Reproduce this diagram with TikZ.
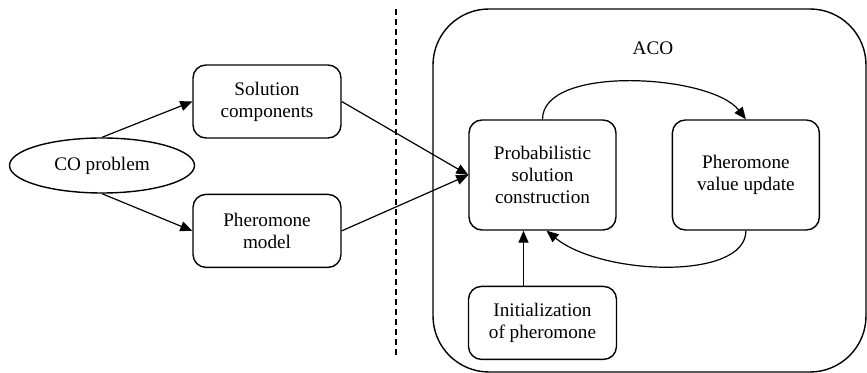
\documentclass[tikz,border=0pt]{standalone}
\usepackage{fontspec}
\setmainfont{Liberation Serif}
\usepackage{tikz}
\usetikzlibrary{positioning, arrows.meta, shapes}
\tikzset{problem/.style={
        draw,
        ellipse,
        line width=0.7pt,
        inner sep=0pt,
        minimum width=92.5pt,
        minimum height=27.5pt
}}
\tikzset{component/.style={
        draw,
        rectangle,
        rounded corners=6.5pt,
        line width=0.7pt,
        inner sep=2pt,
        align=center,
        minimum width=74pt,
        minimum height=36.5pt
}}
\tikzset{stage/.style={
        component,
        minimum width=73.5pt,
        minimum height=55pt
}}
\tikzset{acoframe/.style={
        draw,
        rectangle,
        rounded corners=28pt,
        line width=0.7pt,
        minimum width=216.5pt,
        minimum height=181.5pt
}}
\tikzset{flowedge/.style={draw,line width=0.6pt,-{Triangle[length=6pt,width=5pt]}}}
\tikzset{divider/.style={draw,line width=0.6pt,dash pattern=on 3pt off 2pt}}

\begin{document}
\begin{tikzpicture}[x=0.5pt,y=-0.5pt,node distance=27.5pt,every node/.style={font=\fontsize{9.6}{11}\selectfont}]
\useasboundingbox (0,0) rectangle (867,373);

\node[acoframe] (aco) at (649.5,190.5) {};
\node (acolabel) at (653,48) {ACO};

\node[problem] (co) at (102,165.5) {CO problem};
\node[component] (sol) at (267,101.5) {Solution\\components};
\node[component, below=of sol] (phm) {Pheromone\\model};

\node[stage] (prob) at (542.5,175) {Probabilistic\\solution\\construction};
\node[stage, right=of prob] (upd) {Pheromone\\value update};
\node[component, below=of prob] (init) {Initialization\\of pheromone};

\coordinate (divtop) at (396,9);
\coordinate (divbot) at (396,358);
\draw[divider] (divtop) -- (divbot);

\draw[flowedge] (co.north) -- (sol.west);
\draw[flowedge] (co.south) -- (phm.west);
\draw[flowedge] (sol.east) -- (prob.west);
\draw[flowedge] (phm.east) -- (prob.west);
\draw[flowedge] (prob.north) .. controls +(0,-55) and +(-35,-45) .. (upd.north);
\draw[flowedge] (upd.south) .. controls +(0,50) and +(55,45) .. ([xshift=2pt]prob.south);
\draw[flowedge] ([xshift=-9.5pt]init.north) -- ([xshift=-9.5pt]prob.south);
\end{tikzpicture}
\end{document}
